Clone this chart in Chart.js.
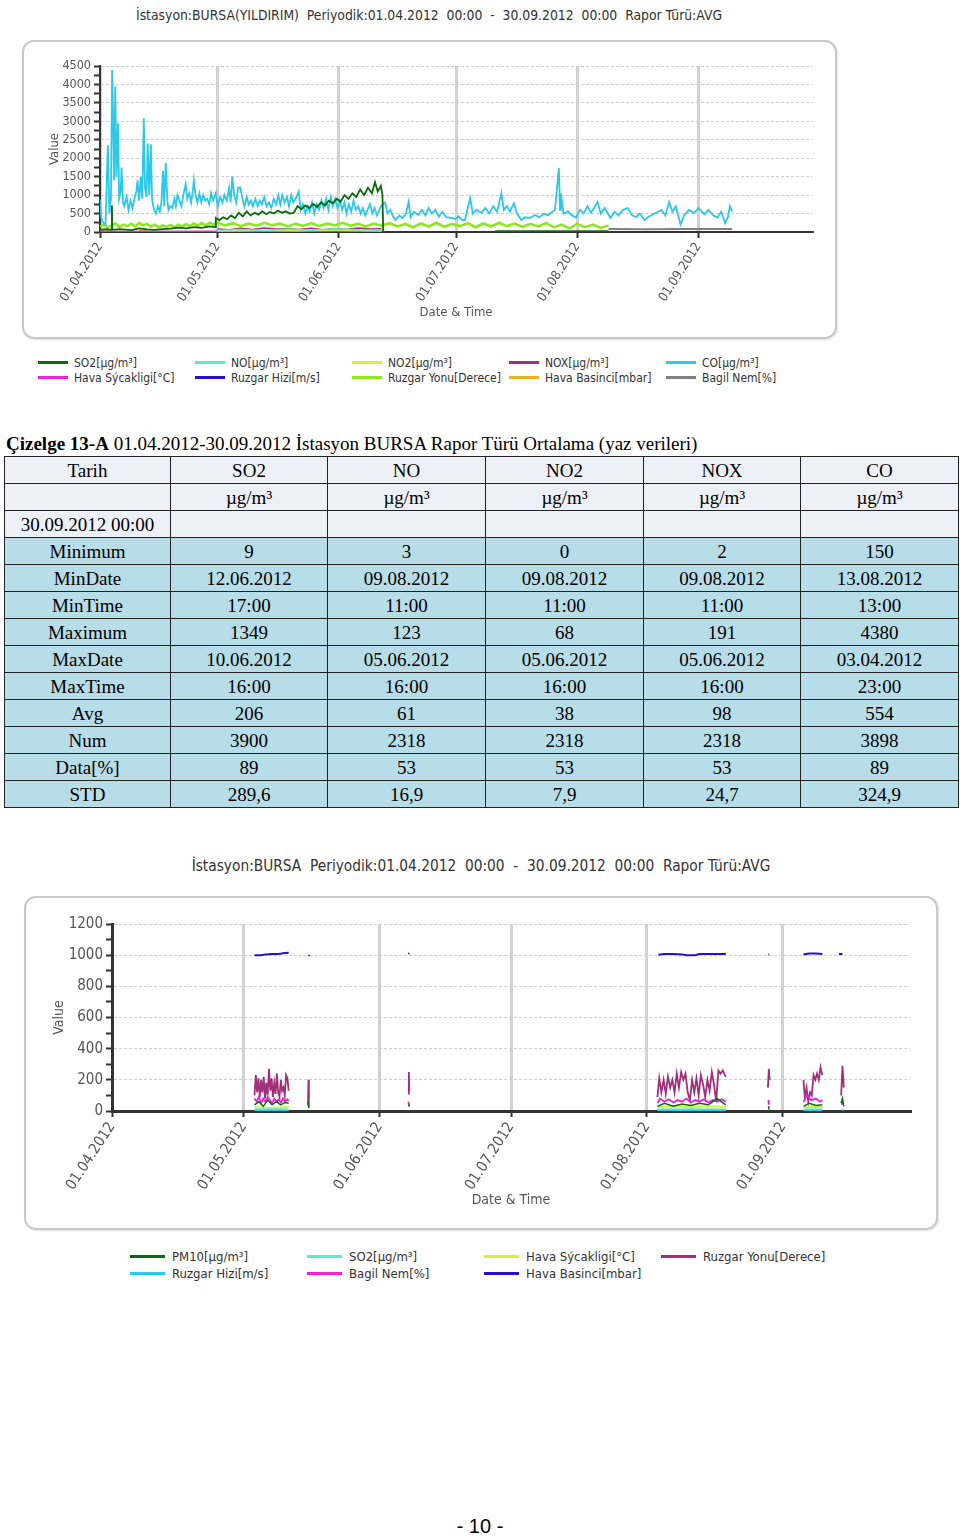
<!DOCTYPE html>
<html>
<head>
<meta charset="utf-8">
<script src="https://cdn.jsdelivr.net/npm/chart.js@4.4.1/dist/chart.umd.min.js"></script>
<style>
  body { margin: 0; background: #fff; width: 960px; height: 1537px; position: relative; overflow: hidden;
         font-family: "Liberation Sans Narrow", "DejaVu Sans Condensed", sans-serif; }
  .title { position: absolute; color: #333; white-space: pre; text-align: center; }
  .box { position: absolute; border: 2px solid #c8c8c8; border-radius: 12px; box-sizing: border-box; box-shadow: 1px 1px 2px #e2e2e2; }
  .cv { position: absolute; }
  .legend { position: absolute; display: grid; color: #333; }
  .legend .item { display: flex; align-items: center; white-space: nowrap; }
  .legend .sw { display: inline-block; height: 3px; }
  #caption { position: absolute; left: 6px; top: 433px; font-family: "Liberation Serif", serif; font-size: 19px; white-space: pre; }
  #stats { position: absolute; left: 4px; top: 456px; width: 954px; border-collapse: collapse; table-layout: fixed;
           font-family: "Liberation Serif", serif; font-size: 19px; }
  #stats td { border: 1.5px solid #222; padding: 0; text-align: center; height: 26px; line-height: 1; }
  #stats tr.h td { background: #eef0f8; }
  #stats tr.d td { background: #b7dde8; }
  #pageno { position: absolute; left: 0; width: 960px; top: 1515px; text-align: center; font-family: "Liberation Sans", sans-serif; font-size: 20px; }
</style>
</head>
<body>

<div class="title" id="title1" style="left:0;width:858px;top:7px;font-size:13.8px"></div>
<div class="box" style="left:22px;top:40px;width:815px;height:299px"></div>
<div class="cv" style="left:22px;top:40px;width:815px;height:299px"><canvas id="chart1"></canvas></div>
<div class="legend" id="legend1" style="left:38px;top:355px;font-size:12px"></div>

<div id="caption"><b>Çizelge 13-A</b> 01.04.2012-30.09.2012 İstasyon BURSA Rapor Türü Ortalama (yaz verileri)</div>
<table id="stats"></table>

<div class="title" id="title2" style="left:0;width:962px;top:857px;font-size:15.3px"></div>
<div class="box" style="left:24px;top:896px;width:914px;height:334px"></div>
<div class="cv" style="left:24px;top:896px;width:914px;height:334px"><canvas id="chart2"></canvas></div>
<div class="legend" id="legend2" style="left:130px;top:1248px;font-size:13px"></div>

<div id="pageno">- 10 -</div>

<script>
// ---- shared x axis (days since 01.04.2012) ----
const monthDays = [0, 30, 61, 91, 122, 153];
const monthLabels = ["01.04.2012", "01.05.2012", "01.06.2012", "01.07.2012", "01.08.2012", "01.09.2012"];
const lastDay = 182;

// ---- chart 1: BURSA(YILDIRIM) ----
const title1 = "İstasyon:BURSA(YILDIRIM)  Periyodik:01.04.2012  00:00  -  30.09.2012  00:00  Rapor Türü:AVG";
const labels1 = ["SO2[µg/m³]", "NO[µg/m³]", "NO2[µg/m³]", "NOX[µg/m³]", "CO[µg/m³]",
                 "Hava Sýcakligi[°C]", "Ruzgar Hizi[m/s]", "Ruzgar Yonu[Derece]", "Hava Basinci[mbar]", "Bagil Nem[%]"];
const colors1 = ["#0b6b0b", "#5ee8cf", "#d8f03c", "#a0307a", "#2cc8e8",
                 "#ee22dd", "#2a0dc8", "#8ee61e", "#f0b020", "#808080"];
const widths1 = [1.8, 1.5, 1.5, 1.5, 1.8, 1.5, 1.5, 2.6, 1.5, 2];

const so2_1 = [[0,60],[1.5,80],[3,60],[3.05,720],[3.15,60],[5,80],[8,50],[10,100],[12,70],[14,60],[16,80],[18,90],
  [20,120],[22,100],[24,130],[26,110],[28,150],[29.5,130],[29.6,380],[30.5,320],[31.5,400],[32.5,350],[33.5,450],
  [34.5,380],[35.5,520],[36.5,420],[37.5,560],[38.5,450],[39.5,520],[40.5,470],[41.5,560],[42.5,480],[43.5,540],
  [44.5,500],[45.5,580],[46.5,520],[47.5,560],[48.5,500],[49.5,520],[50.5,700],[51.5,620],[52.5,720],[53.5,650],
  [54.5,760],[55.5,680],[56.5,800],[57.5,720],[58.5,850],[59.5,780],[60.5,900],[61.5,820],[62.5,1000],[63.5,900],
  [64.5,1050],[65.5,950],[66.5,1150],[67.5,1000],[68.5,1200],[69.5,1050],[70.3,1350],[71,1100],[71.8,1250],
  [72.2,1000],[72.4,0],[72.5,null],[101,20],[115,20],[130,20],[130.1,null]];
const no_1 = [[30,50],[36,70],[42,40],[48,80],[54,50],[60,90],[66,60],[72,50],[72.5,null]];
const no2_1 = [[30,30],[40,40],[50,35],[60,45],[72,30],[72.5,null]];
const nox_1 = [[30,80],[33,60],[36,100],[39,70],[42,110],[45,80],[48,90],[51,70],[54,100],[57,60],[60,90],
  [63,70],[66,110],[69,80],[72,90],[72.5,null]];
const co_1 = [[0,880],[0.3,400],[0.8,250],[1.4,200],[2,2350],[2.4,500],[2.8,900],[3.1,4390],[3.4,2850],[3.6,1400],
  [3.9,3950],[4.2,1500],[4.6,2950],[4.9,900],[5.3,1100],[5.5,1750],[5.9,800],[6.2,700],[6.8,950],[7.3,600],
  [7.8,850],[8.3,650],[8.9,950],[9.3,1100],[9.6,1400],[10,850],[10.4,1500],[10.8,900],[11.2,3080],[11.5,1200],
  [11.9,950],[12.2,2400],[12.6,1000],[13,2380],[13.3,900],[13.8,600],[14.3,500],[14.8,700],[15.3,550],[15.7,800],
  [16.1,1650],[16.4,700],[16.8,1870],[17.2,900],[17.5,600],[18,700],[18.5,650],[19,900],[19.4,700],[19.8,1000],
  [20.3,850],[20.8,700],[21.3,1000],[21.9,1300],[22.3,900],[22.8,1050],[23.3,800],[23.7,1100],[24,1400],
  [24.4,1000],[24.9,800],[25.4,1050],[25.9,800],[26.4,1000],[26.9,850],[27.4,900],[27.9,750],[28.4,1050],
  [28.9,850],[29.6,1050],[30.1,700],[30.7,950],[31.3,800],[31.8,1000],[32.4,850],[33,1200],[33.4,800],
  [33.8,1500],[34.3,1000],[34.8,800],[35.3,1200],[35.9,1200],[36.4,900],[36.9,700],[37.5,950],[38,750],
  [38.6,850],[39.1,700],[39.7,900],[40.3,700],[40.8,850],[41.4,750],[42,950],[42.6,700],[43.2,800],[43.8,650],
  [44.4,900],[45,750],[45.6,1000],[46.1,750],[46.6,1000],[47.2,800],[47.8,950],[48.3,700],[48.9,1000],
  [49.4,800],[50,900],[50.8,1100],[51.3,600],[51.9,750],[52.5,500],[53.1,700],[53.6,550],[54.2,800],[54.8,500],
  [55.4,750],[56,600],[56.6,850],[57.2,650],[57.8,900],[58.4,600],[59,950],[59.5,700],[60.1,900],[60.7,650],
  [61.3,850],[61.9,600],[62.5,800],[63,500],[63.6,750],[64.2,550],[64.8,850],[65.4,600],[66,700],[66.6,500],
  [67.2,650],[67.8,450],[68.4,600],[69,750],[69.6,500],[70.2,650],[70.8,450],[71.4,600],[72,730],[72.9,800],
  [73.5,500],[74.2,600],[75,400],[75.5,325],[76.5,450],[77.3,380],[78.2,500],[78.9,820],[79.4,400],[80.2,550],
  [81.4,460],[82.3,600],[83.2,450],[84,650],[84.8,500],[85.7,600],[86.6,420],[87.5,550],[88.5,400],[89.8,380],
  [90.8,350],[91.7,420],[92.5,330],[93.3,325],[94.6,920],[95.3,500],[96.2,600],[97.5,520],[98.5,650],[99.5,500],
  [100.5,700],[101.5,550],[102.6,1050],[103.2,600],[104,700],[104.8,550],[105.8,780],[106.6,500],[107.7,325],
  [108.7,400],[109.8,380],[111.2,460],[112.3,400],[113.5,500],[114.5,450],[115.3,520],[116.3,600],[117.3,1730],
  [117.6,600],[117.8,1050],[118.5,500],[119.6,560],[120.6,450],[121.7,390],[122.7,600],[123.6,500],[124.6,700],
  [125.5,520],[126.3,650],[127.2,810],[128,500],[129,650],[130.5,380],[131.5,550],[132.5,450],[133.7,600],
  [134.9,650],[136,450],[137,400],[138,500],[139.2,325],[140.3,420],[141.4,480],[142.5,540],[143.5,600],
  [144.5,450],[145.5,810],[146.3,550],[147.2,700],[148.4,200],[149.3,450],[150.5,600],[151.9,520],[153,650],
  [154.5,480],[155.5,600],[156.7,450],[157.8,390],[158.8,550],[159.8,240],[160.5,400],[161,700],[161.6,550]];
const sic_1 = [[0,15],[30,20],[72,25],[72.5,null]];
const hiz_1 = [[0,3],[72,3],[72.5,null]];
const yon_1 = [[0,150],[1,200],[2,120],[3,180],[4,230],[5,140],[6,200],[7,160],[8,220],[9,150],[10,250],[11,180],
  [12,220],[13,150],[14,200],[15,130],[16,180],[17,140],[18,190],[19,130],[20,200],[21,150],[22,210],[23,160],
  [24,230],[25,170],[26,240],[27,180],[28,250],[29,200],[30,260],[32,180],[34,240],[36,160],[38,230],[40,170],
  [42,250],[44,180],[46,230],[48,150],[50,220],[52,170],[54,240],[56,160],[58,230],[60,180],[62,250],[64,170],
  [66,220],[68,150],[70,230],[72,170],[74,240],[76,150],[78,220],[80,130],[82,230],[84,150],[86,250],[88,140],
  [90,220],[92,160],[94,240],[96,130],[98,230],[100,150],[102,250],[104,160],[106,230],[108,140],[110,220],
  [112,150],[114,240],[116,130],[118,200],[120,100],[122,220],[124,130],[126,200],[128,110],[130,180],[130.1,null]];
const bas_1 = [[0,40],[1.5,60],[3,30],[3.1,null],[10,40],[12,50],[12.1,null]];
const nem_1 = [[130,80],[140,75],[150,80],[161.6,80]];
const series1 = [so2_1, no_1, no2_1, nox_1, co_1, sic_1, hiz_1, yon_1, bas_1, nem_1];

// ---- chart 2: BURSA ----
const title2 = "İstasyon:BURSA  Periyodik:01.04.2012  00:00  -  30.09.2012  00:00  Rapor Türü:AVG";
const labels2 = ["PM10[µg/m³]", "Ruzgar Hizi[m/s]", "SO2[µg/m³]", "Bagil Nem[%]",
                 "Hava Sýcakligi[°C]", "Hava Basinci[mbar]", "Ruzgar Yonu[Derece]"];
const colors2 = ["#0b6b0b", "#2cc8e8", "#5ee8cf", "#ee22dd", "#d8f03c", "#2a0dc8", "#a0307a"];
const widths2 = [1.5, 1.5, 2, 1.8, 2, 2, 1.8];

const pm10_2 = [[32.5,40],[33.5,60],[34.5,30],[35.5,70],[36.5,40],[37.5,60],[38.5,40],[39.5,55],[40.3,50],[40.4,null],
  [44.8,60],[44.9,20],[45,null],[67.6,40],[67.8,30],[67.9,null],
  [124.4,30],[126,50],[128,30],[130,45],[132,35],[134,50],[136,40],[138,80],[140,40],[140.1,null],
  [149.7,30],[149.8,20],[149.9,null],[157.7,30],[159,50],[160.5,35],[162,40],[162.1,null],[166.3,50],[166.6,80],[166.9,30]];
const hiz_2 = [[32.5,3],[40.3,3],[40.4,null],[124.4,3],[140,3],[140.1,null],[157.7,3],[162,3]];
const so2_2 = [[32.5,10],[36,12],[40.3,10],[40.4,null],[44.8,15],[44.9,null],[67.7,15],[67.8,null],
  [124.4,10],[132,12],[140,10],[140.1,null],[149.7,12],[149.8,null],[157.7,10],[162,12],[162.1,null],[166.5,10],[166.7,12]];
const nem_2 = [[32.5,80],[33,60],[33.5,90],[34,50],[34.5,80],[35,60],[35.5,90],[36,70],[36.5,50],[37,80],[37.5,60],
  [38,75],[38.5,55],[39,80],[39.5,60],[40,75],[40.3,65],[40.4,null],[44.7,50],[44.8,30],[44.9,null],
  [67.6,60],[67.8,30],[67.9,null],[124.4,50],[125,80],[126,60],[127,75],[128,55],[129,70],[130,60],[131,80],
  [132,55],[133,70],[134,60],[135,75],[136,55],[137,70],[138,60],[139,75],[140,60],[140.1,null],
  [149.7,70],[149.8,40],[149.9,null],[157.7,60],[158.5,100],[159.5,70],[160.5,80],[161.5,60],[162,70],[162.1,null],
  [166.4,60],[166.6,40]];
const sic_2 = [[32.5,25],[36,20],[40.3,25],[40.4,null],[44.8,20],[44.9,null],[67.7,25],[67.8,null],
  [124.4,25],[128,30],[132,25],[136,30],[140,25],[140.1,null],[149.7,25],[149.8,null],[157.7,25],[162,25]];
const bas_2 = [[32.5,1000],[34,1000],[35,1005],[36.5,1008],[38,1008],[39,1012],[40.3,1015],[40.4,null],
  [44.8,1000],[44.9,1001],[45,null],[67.6,1008],[67.8,1012],[67.9,null],
  [124.6,1003],[126,1008],[128,1008],[130,1005],[131,1000],[133,1000],[134,1007],[136,1008],[138,1008],[140,1008],[140.1,null],
  [149.7,1005],[149.9,1005],[150,null],[157.7,1005],[159,1010],[160.5,1010],[162,1008],[162.1,null],
  [165.8,1007],[166.6,1007]];
const yon_2 = [[32.5,100],[32.8,230],[33.1,120],[33.4,210],[33.7,90],[34,200],[34.3,120],[34.6,220],[34.9,80],
  [35.2,180],[35.5,100],[35.8,270],[36.1,130],[36.4,210],[36.7,90],[37,180],[37.3,110],[37.6,240],[37.9,120],
  [38.2,90],[38.5,200],[38.8,130],[39.1,150],[39.4,100],[39.7,230],[40,210],[40.3,130],[40.4,null],
  [44.7,40],[44.8,200],[44.9,60],[45,null],[67.6,110],[67.7,250],[67.8,130],[67.9,null],
  [124.4,90],[124.8,210],[125.3,120],[125.8,200],[126.3,110],[126.8,220],[127.3,150],[127.8,200],[128.3,120],
  [128.8,240],[129.3,150],[129.8,250],[130.3,200],[130.8,240],[131.3,120],[131.8,70],[132.3,200],[132.8,120],
  [133.3,210],[133.8,100],[134.3,230],[134.8,170],[135.3,90],[135.8,200],[136.3,130],[136.8,250],[137.3,170],
  [137.8,60],[138.3,260],[138.8,240],[139.3,260],[139.8,230],[140,220],[140.1,null],
  [149.6,150],[149.8,270],[150,200],[150.1,null],[157.7,200],[158,90],[158.4,150],[158.8,60],[159.2,120],
  [159.6,100],[160,230],[160.4,200],[160.8,240],[161.2,200],[161.6,280],[162,230],[162.1,null],
  [166.3,100],[166.6,290],[166.9,150]];
const series2 = [pm10_2, hiz_2, so2_2, nem_2, sic_2, bas_2, yon_2];

// ---- table ----
const tableHead = ["Tarih", "SO2", "NO", "NO2", "NOX", "CO"];
const tableUnits = ["", "µg/m³", "µg/m³", "µg/m³", "µg/m³", "µg/m³"];
const tableDate = ["30.09.2012 00:00", "", "", "", "", ""];
const tableRows = [
  ["Minimum", "9", "3", "0", "2", "150"],
  ["MinDate", "12.06.2012", "09.08.2012", "09.08.2012", "09.08.2012", "13.08.2012"],
  ["MinTime", "17:00", "11:00", "11:00", "11:00", "13:00"],
  ["Maximum", "1349", "123", "68", "191", "4380"],
  ["MaxDate", "10.06.2012", "05.06.2012", "05.06.2012", "05.06.2012", "03.04.2012"],
  ["MaxTime", "16:00", "16:00", "16:00", "16:00", "23:00"],
  ["Avg", "206", "61", "38", "98", "554"],
  ["Num", "3900", "2318", "2318", "2318", "3898"],
  ["Data[%]", "89", "53", "53", "53", "89"],
  ["STD", "289,6", "16,9", "7,9", "24,7", "324,9"]
];
const colWidths = [166, 157, 158, 158, 157, 158];

// ---------------------------------------------------------------
const buildTable = () => {
  const t = document.getElementById("stats");
  const cg = document.createElement("colgroup");
  colWidths.forEach((w) => {
    const c = document.createElement("col");
    c.style.width = w + "px";
    cg.appendChild(c);
  });
  t.appendChild(cg);
  const addRow = (cells, cls) => {
    const tr = document.createElement("tr");
    tr.className = cls;
    cells.forEach((txt) => {
      const td = document.createElement("td");
      td.textContent = txt;
      tr.appendChild(td);
    });
    t.appendChild(tr);
  };
  addRow(tableHead, "h");
  addRow(tableUnits, "h");
  addRow(tableDate, "h");
  tableRows.forEach((r) => addRow(r, "d"));
};

const buildLegend = (id, labels, colors, opts) => {
  const el = document.getElementById(id);
  el.style.gridTemplateRows = `repeat(2, ${opts.rowH}px)`;
  el.style.gridTemplateColumns = `repeat(${opts.cols}, ${opts.colW}px)`;
  el.style.gridAutoFlow = opts.flow;
  labels.forEach((lab, i) => {
    const item = document.createElement("div");
    item.className = "item";
    const sw = document.createElement("span");
    sw.className = "sw";
    sw.style.width = opts.swW + "px";
    sw.style.marginRight = opts.gap + "px";
    sw.style.background = colors[i];
    const tx = document.createElement("span");
    tx.textContent = lab;
    item.appendChild(sw);
    item.appendChild(tx);
    el.appendChild(item);
  });
};

const makeChart = (canvasId, series, labels, colors, widths, o) => {
  const ctx = document.getElementById(canvasId).getContext("2d");
  const datasets = series.map((s, i) => ({
    label: labels[i],
    data: s.map(([x, y]) => ({ x: x, y: y })),
    borderColor: colors[i],
    backgroundColor: colors[i],
    borderWidth: widths[i],
    pointRadius: 0,
    tension: 0,
    spanGaps: false,
    fill: false,
  }));

  return new Chart(ctx, {
    type: "line",
    data: { datasets: datasets },
    options: {
      responsive: true,
      maintainAspectRatio: false,
      animation: false,
      events: [],
      layout: { padding: { top: o.padTop, right: o.padRight, left: 0, bottom: 0 } },
      plugins: { legend: { display: false }, tooltip: { enabled: false } },
      scales: {
        x: {
          type: "linear",
          min: 0,
          max: lastDay,
          afterBuildTicks: (scale) => {
            scale.ticks = monthDays.map((d) => ({ value: d }));
          },
          afterFit: (scale) => {
            scale.height = o.xAxisH;
          },
          ticks: {
            autoSkip: false,
            minRotation: 57,
            maxRotation: 57,
            padding: 2,
            color: "#555",
            font: { size: o.xFont },
            callback: (v) => monthLabels[monthDays.indexOf(v)],
          },
          grid: { color: "#d2d2d2", lineWidth: 3, tickColor: "#333", tickWidth: 2, tickLength: 6 },
          border: { color: "#333", width: o.axisW },
          title: {
            display: true,
            text: "Date & Time",
            color: "#555",
            font: { size: o.titleFont },
            padding: { top: 0, bottom: o.xTitlePad },
          },
        },
        y: {
          min: 0,
          max: o.yMax,
          afterFit: (scale) => {
            scale.width = o.yAxisW;
          },
          ticks: {
            stepSize: o.yMinor,
            autoSkip: false,
            padding: 3,
            color: "#555",
            font: { size: o.yFont },
            callback: (v) => (v % o.yMajor === 0 ? v : ""),
          },
          grid: {
            color: (c) => (c.tick && c.tick.value % o.yMajor === 0 && c.tick.value > 0 ? "#cfcfcf" : "rgba(0,0,0,0)"),
            lineWidth: 1,
            tickColor: "#333",
            tickWidth: 2,
            tickLength: 6,
          },
          border: { color: "#333", width: o.axisW, dash: [3, 2] },
          title: {
            display: true,
            text: "Value",
            color: "#555",
            font: { size: o.titleFont },
            padding: { top: o.yTitlePad, bottom: 0 },
          },
        },
      },
    },
  });
};

Chart.defaults.font.family = '"Liberation Sans Narrow", "DejaVu Sans Condensed", sans-serif';

document.getElementById("title1").textContent = title1;
document.getElementById("title2").textContent = title2;

makeChart("chart1", series1, labels1, colors1, widths1, {
  padTop: 26, padRight: 25, xAxisH: 107, yAxisW: 78,
  yMax: 4500, yMinor: 250, yMajor: 500,
  xFont: 13, yFont: 12.5, titleFont: 13, axisW: 2,
  xTitlePad: 19, yTitlePad: 25,
});
makeChart("chart2", series2, labels2, colors2, widths2, {
  padTop: 28, padRight: 28, xAxisH: 119, yAxisW: 88,
  yMax: 1200, yMinor: 100, yMajor: 200,
  xFont: 15, yFont: 15, titleFont: 14, axisW: 3,
  xTitlePad: 21, yTitlePad: 27,
});

buildLegend("legend1", labels1, colors1, { rowH: 15, cols: 5, colW: 157, flow: "row", swW: 30, gap: 6 });
buildLegend("legend2", labels2, colors2, { rowH: 17, cols: 4, colW: 177, flow: "column", swW: 35, gap: 7 });
buildTable();
</script>
</body>
</html>
